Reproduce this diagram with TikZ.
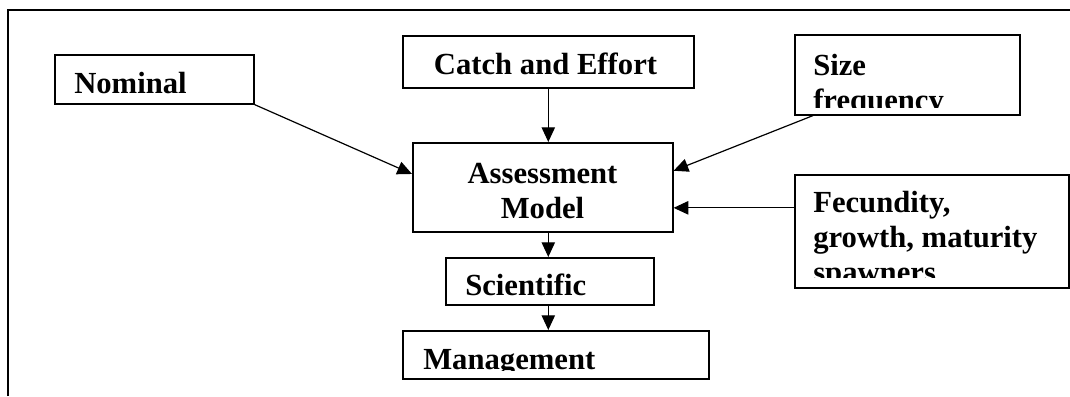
\documentclass[tikz,border=0pt]{standalone}
\usepackage{fontspec}
\setmainfont{Liberation Serif}
\usetikzlibrary{arrows.meta,positioning}
\tikzstyle{frame}=[line width=1.2pt]
\tikzstyle{box}=[rectangle,draw,line width=1.2pt,inner sep=0pt,anchor=north west]
\tikzstyle{words}=[inner sep=0pt,font=\bfseries\fontsize{23}{26.25}\selectfont]
\tikzstyle{feeds}=[-{Triangle[length=11pt,width=10pt]},line width=0.9pt]

\begin{document}
\begin{tikzpicture}[x=0.75pt,y=-0.75pt]
\useasboundingbox (0,0) rectangle (1070,396);
\draw [frame] (8,396) -- (8,10) -- (1070,10);

% boxes
\node (nom) [box,minimum width=149.25pt,minimum height=36.75pt] at (54,54) {};
\node (catch) [box,minimum width=218.25pt,minimum height=39pt] at (402,35) {};
\node (size) [box,minimum width=168.75pt,minimum height=60pt] at (794,34) {};
\node (asm) [box,minimum width=195pt,minimum height=66.75pt] at (412,142) {};
\node (fec) [box,minimum width=205.5pt,minimum height=84.75pt] at (794,174) {};
\node (sci) [box,minimum width=156pt,minimum height=35.25pt] at (445,257) {};
\node (mgmt) [box,minimum width=229.5pt,minimum height=36pt] at (402,330) {};

% texts (base = last line)
\node (nomtxt) [words,anchor=base west] at (74,93) {Nominal};
\node (catchtxt) [words,anchor=base] at (545.5,74) {Catch and Effort};
\begin{scope}
  \clip (796,36) rectangle (1017,107);
  \node (sizetxt) [words,anchor=base west,align=left] at (813,110) {Size\\frequency};
\end{scope}
\node (asmtxt) [words,anchor=base,align=center] at (542.5,218) {Assessment\\Model};
\begin{scope}
  \clip (796,176) rectangle (1066,277);
  \node (fectxt) [words,anchor=base west,align=left] at (813,282) {Fecundity,\\growth, maturity\\spawners};
\end{scope}
\node (scitxt) [words,anchor=base west] at (465,295) {Scientific};
\begin{scope}
  \clip (404,332) rectangle (706,370);
  \node (mgmttxt) [words,anchor=base west] at (423,369) {Management};
\end{scope}

% connectors
\coordinate (fecin) at ([yshift=17.6pt]fec.west);
\draw [feeds] (nom.south east) -- ([yshift=10pt]asm.west);
\draw [feeds] (catch.south) -- (catch.south |- asm.north);
\draw [feeds] ([xshift=14.25pt]size.south west) -- ([yshift=12.4pt]asm.east);
\draw [feeds] (fecin) -- (fecin -| asm.east);
\draw [feeds] (catch.south |- asm.south) -- (catch.south |- sci.north);
\draw [feeds] (catch.south |- sci.south) -- (catch.south |- mgmt.north);
\end{tikzpicture}
\end{document}
